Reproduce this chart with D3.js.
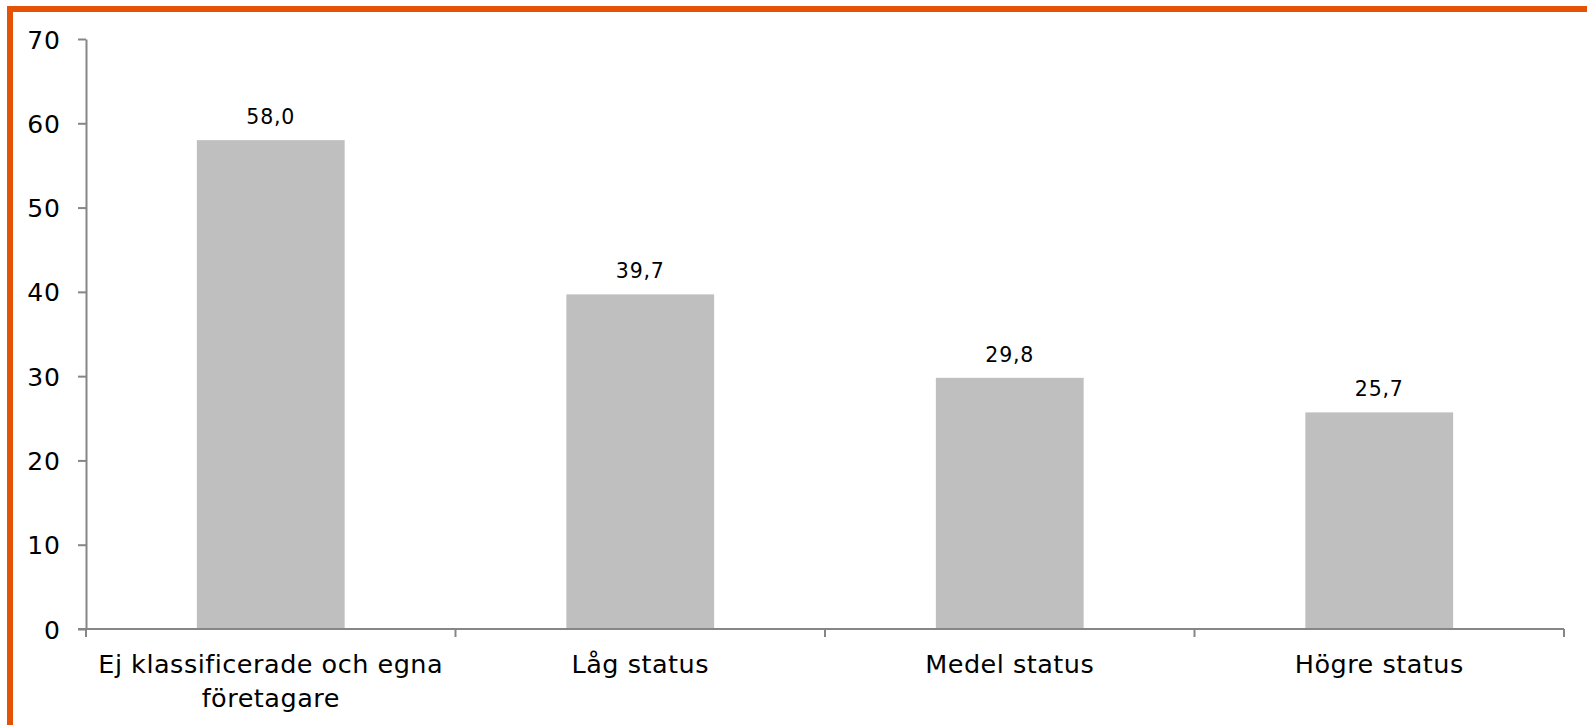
<!DOCTYPE html>
<html><head><meta charset="utf-8">
<script src="https://cdn.jsdelivr.net/npm/d3@7"></script>
<style>html,body{margin:0;padding:0;background:#fff;}svg{display:block;}</style>
</head><body>
<svg id="c" width="1587" height="725"></svg>
<script>
const categories = ["Ej klassificerade och egna företagare", "Låg status", "Medel status", "Högre status"];
const values = [58.0, 39.7, 29.8, 25.7];
const yTicks = [0, 10, 20, 30, 40, 50, 60, 70];

const svg = d3.select("#c");
const W = 1587, H = 725;
const m = {left: 86, right: 23, top: 39, bottom: 96};
const font = "DejaVu Sans, Verdana, sans-serif";
const axisColor = "#868686";

// orange frame (top and left)
svg.append("rect").attr("x", 7).attr("y", 6).attr("width", W - 7).attr("height", 6).attr("fill", "#E35205");
svg.append("rect").attr("x", 7).attr("y", 6).attr("width", 6).attr("height", H - 6).attr("fill", "#E35205");

const x = d3.scaleBand().domain(categories).range([m.left, W - m.right]).padding(0);
const y = d3.scaleLinear().domain([0, 70]).range([H - m.bottom, m.top]);

const g = svg.append("g");

// bars
const bw = x.bandwidth() * 0.4;
g.selectAll("rect.bar").data(values).join("rect")
  .attr("class", "bar")
  .attr("x", (d, i) => x(categories[i]) + (x.bandwidth() - bw) / 2)
  .attr("width", bw)
  .attr("y", d => y(d))
  .attr("height", d => y(0) - y(d))
  .attr("fill", "#BFBFBF");

// value labels
g.selectAll("text.val").data(values).join("text")
  .attr("class", "val")
  .attr("x", (d, i) => x(categories[i]) + x.bandwidth() / 2)
  .attr("y", d => y(d) - 16)
  .attr("text-anchor", "middle")
  .attr("font-family", font).attr("font-size", 20.5).attr("letter-spacing", 0.8).attr("fill", "#000")
  .text(d => d.toFixed(1).replace(".", ","));

// y axis
const yAxis = d3.axisLeft(y).tickValues(yTicks).tickSize(8).tickSizeOuter(0).tickPadding(17);
const ya = svg.append("g").attr("transform", `translate(${m.left},0)`).call(yAxis);
ya.select(".domain").attr("stroke", axisColor).attr("stroke-width", 2);
ya.selectAll(".tick line").attr("stroke", axisColor).attr("stroke-width", 2);
ya.selectAll(".tick text").attr("font-family", font).attr("font-size", 25).attr("letter-spacing", 1).attr("fill", "#000")
  .attr("dy", "0.36em");

// x axis
const xa = svg.append("g").attr("transform", `translate(0,${y(0)})`);
xa.append("line").attr("x1", m.left - 8).attr("x2", W - m.right).attr("y1", 0).attr("y2", 0)
  .attr("stroke", axisColor).attr("stroke-width", 2);
const bounds = categories.map(c => x(c)).concat([x(categories[categories.length - 1]) + x.bandwidth()]);
xa.selectAll("line.t").data(bounds).join("line").attr("class", "t")
  .attr("x1", d => d).attr("x2", d => d).attr("y1", 0).attr("y2", 8)
  .attr("stroke", axisColor).attr("stroke-width", 2);

// category labels with wrapping
const lines = [["Ej klassificerade och egna", "företagare"], ["Låg status"], ["Medel status"], ["Högre status"]];
categories.forEach((c, i) => {
  const t = xa.append("text")
    .attr("x", x(c) + x.bandwidth() / 2)
    .attr("y", 44)
    .attr("text-anchor", "middle")
    .attr("font-family", font).attr("font-size", 25.5).attr("letter-spacing", 0.5).attr("fill", "#000");
  lines[i].forEach((ln, j) => {
    t.append("tspan").attr("x", x(c) + x.bandwidth() / 2).attr("dy", j === 0 ? 0 : 34).text(ln);
  });
});
</script>
</body></html>
